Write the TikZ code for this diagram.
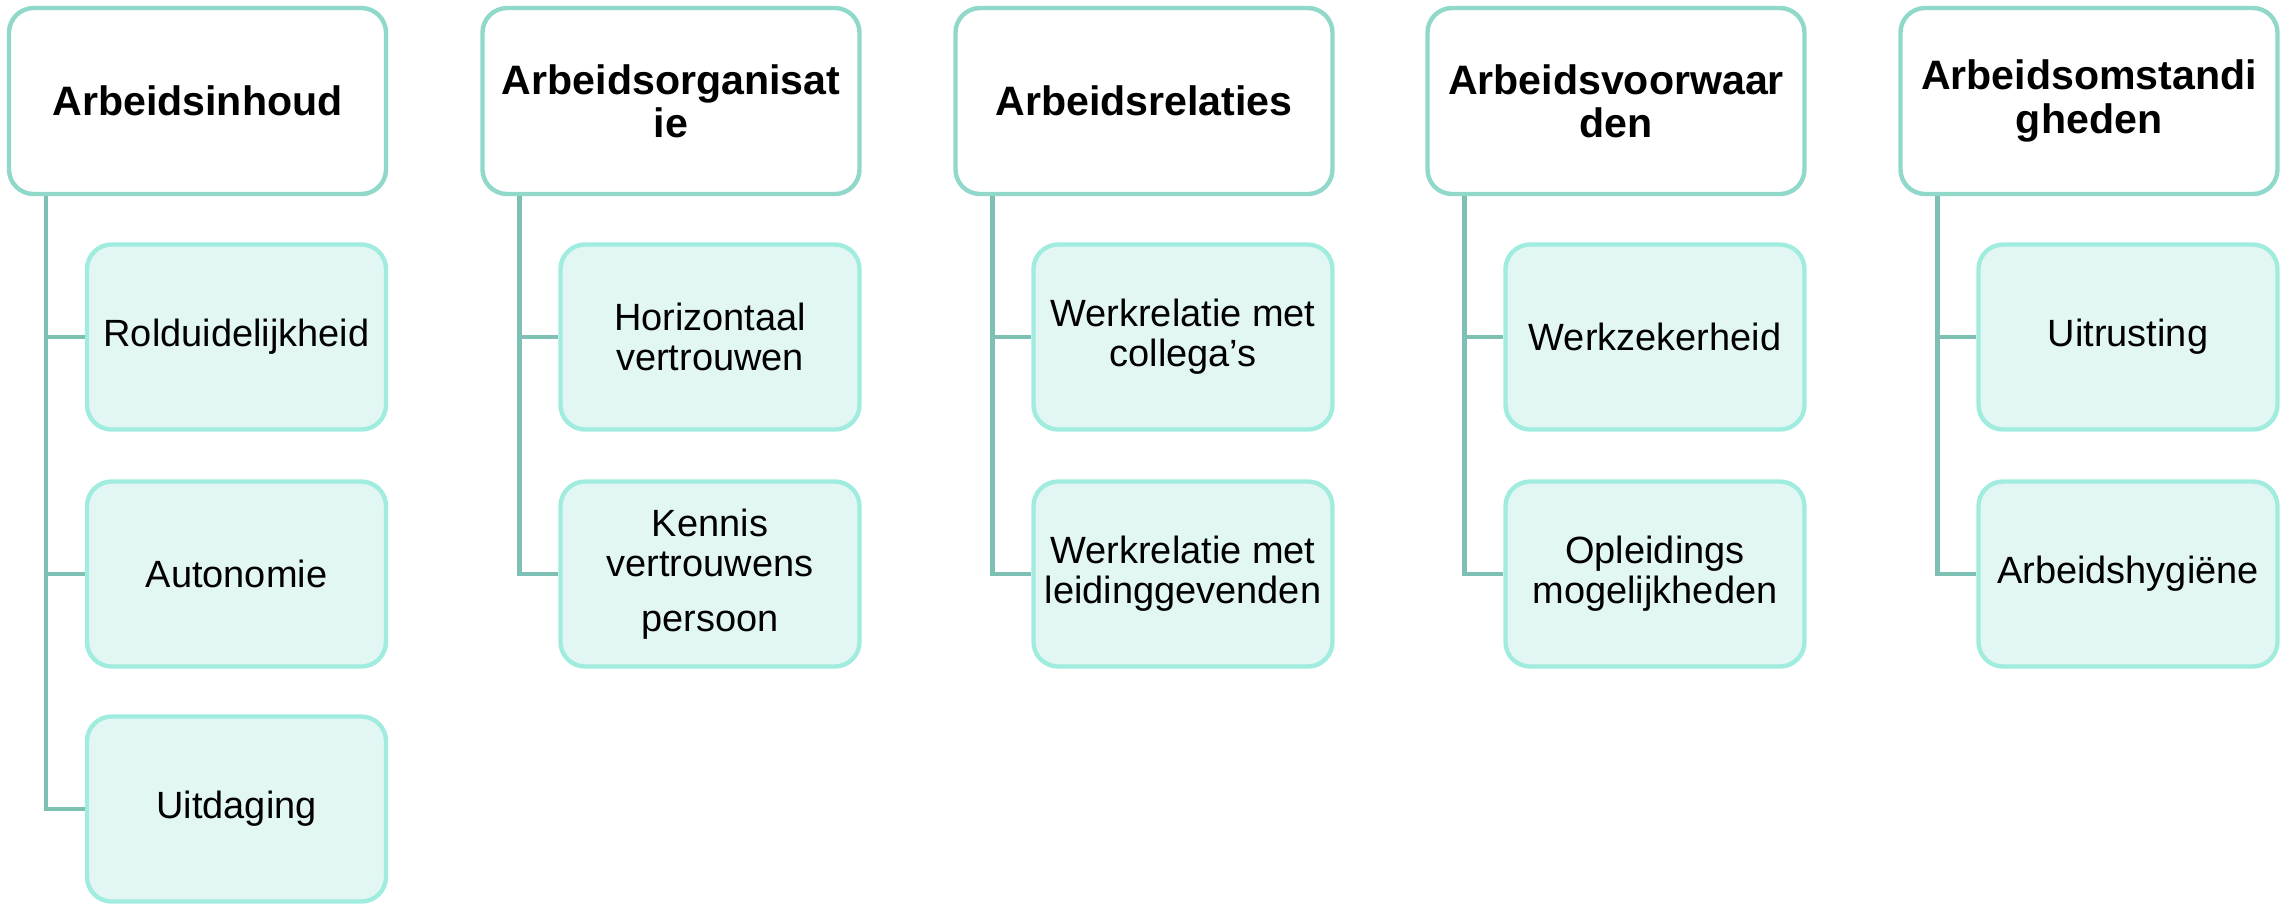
\documentclass[tikz,border=0pt]{standalone}
\usepackage{fontspec}
\setmainfont{Liberation Sans}
\usepackage{tikz}
\usetikzlibrary{positioning}
\definecolor{headline}{RGB}{143,216,202}
\definecolor{itemline}{RGB}{160,236,222}
\definecolor{itemfill}{RGB}{226,247,243}
\definecolor{linkline}{RGB}{126,192,179}
\tikzset{
  head/.style={draw=headline,line width=1.25pt,rounded corners=7pt,minimum width=3.77cm,minimum height=1.86cm,inner sep=1pt,align=center,font=\fontsize{11.7}{12.3}\selectfont\bfseries,fill=white},
  item/.style={draw=itemline,fill=itemfill,line width=1.25pt,rounded corners=7pt,minimum width=2.99cm,minimum height=1.85cm,inner sep=1pt,align=center,font=\fontsize{10.8}{11.4}\selectfont},
  link/.style={line width=1.25pt,draw=linkline}
}
\begin{document}
\begin{tikzpicture}[x=1cm,y=1cm]
\useasboundingbox (0,0) rectangle (22.85,-9.05);
% Kopjes
\node[head] (h1) at (1.975,-1.01) {Arbeidsinhoud};
\node[head] (h2) at (6.71,-1.01) {Arbeidsorganisat\\ie};
\node[head] (h3) at (11.44,-1.01) {Arbeidsrelaties};
\node[head] (h4) at (16.16,-1.01) {Arbeidsvoorwaar\\den};
\node[head] (h5) at (20.89,-1.01) {Arbeidsomstandi\\gheden};

% Onderdelen
\node[item] (i11) at (2.365,-3.37) {Rolduidelijkheid};
\node[item] (i12) at (2.365,-5.74) {Autonomie};
\node[item] (i13) at (2.365,-8.09) {Uitdaging};
\node[item] (i21) at (7.10,-3.37) {Horizontaal\\vertrouwen};
\node[item] (i22) at (7.10,-5.74) {Kennis\\vertrouwens\\[0.15cm]persoon};
\node[item] (i31) at (11.83,-3.37) {Werkrelatie met\\collega’s};
\node[item] (i32) at (11.83,-5.74) {Werkrelatie met\\leidinggevenden};
\node[item] (i41) at (16.55,-3.37) {Werkzekerheid};
\node[item] (i42) at (16.55,-5.74) {Opleidings\\mogelijkheden};
\node[item] (i51) at (21.28,-3.37) {Uitrusting};
\node[item] (i52) at (21.28,-5.74) {Arbeidshygiëne};

% Verbindingen
\draw[link] ([xshift=3.9mm]h1.south west) |- (i11.west);
\draw[link] ([xshift=3.9mm]h1.south west) |- (i12.west);
\draw[link] ([xshift=3.9mm]h1.south west) |- (i13.west);
\draw[link] ([xshift=3.9mm]h2.south west) |- (i21.west);
\draw[link] ([xshift=3.9mm]h2.south west) |- (i22.west);
\draw[link] ([xshift=3.9mm]h3.south west) |- (i31.west);
\draw[link] ([xshift=3.9mm]h3.south west) |- (i32.west);
\draw[link] ([xshift=3.9mm]h4.south west) |- (i41.west);
\draw[link] ([xshift=3.9mm]h4.south west) |- (i42.west);
\draw[link] ([xshift=3.9mm]h5.south west) |- (i51.west);
\draw[link] ([xshift=3.9mm]h5.south west) |- (i52.west);
\end{tikzpicture}
\end{document}
